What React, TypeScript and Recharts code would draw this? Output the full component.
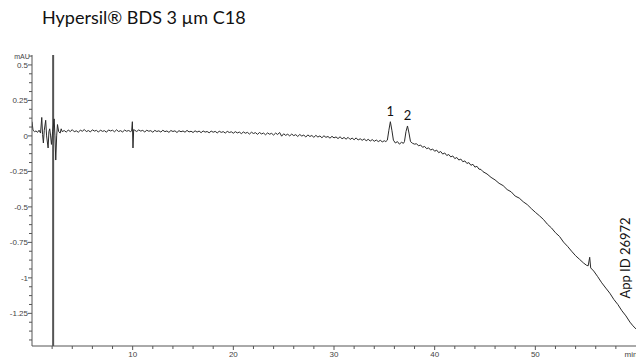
import { LineChart, Line, XAxis, YAxis, ReferenceLine, ReferenceDot } from "recharts";

// [retention time (min), absorbance (mAU)], in four stretches
const INJECTION_NOISE: [number, number][] = [
  [0, 0.1], [0.1, 0.04], [0.25, 0.03], [0.4, 0.035], [0.55, 0.025], [0.7, 0.04], [0.85, 0.02], [0.97, 0.13],
  [1.05, 0.01], [1.13, -0.05], [1.22, 0.04], [1.36, 0.11], [1.45, 0.0], [1.6, -0.085], [1.68, 0.03], [1.76, 0.05],
  [1.85, 0.0], [1.93, -0.06], [2.05, 0.03], [2.2, 0.12], [2.28, 0.0], [2.36, -0.17], [2.45, 0.0], [2.53, 0.08],
  [2.65, 0.03], [2.8, 0.02], [2.9, 0.05], [3.0, 0.03],
];

const BASELINE: [number, number][] = [
  [3.2, 0.038], [3.4, 0.027], [3.6, 0.041], [3.8, 0.031], [4.0, 0.044], [4.2, 0.029], [4.4, 0.036], [4.6, 0.026],
  [4.8, 0.04], [5.0, 0.033], [5.2, 0.045], [5.4, 0.03], [5.6, 0.038], [5.8, 0.028], [6.0, 0.043], [6.2, 0.034],
  [6.4, 0.039], [6.6, 0.027], [6.8, 0.041], [7.0, 0.032], [7.2, 0.037], [7.4, 0.026], [7.6, 0.042], [7.8, 0.035],
  [8.0, 0.04], [8.2, 0.029], [8.4, 0.043], [8.6, 0.031], [8.8, 0.037], [9.0, 0.028], [9.2, 0.041], [9.4, 0.033],
  [9.6, 0.038], [9.8, 0.03], [9.9, 0.035], [9.97, 0.1], [10.03, -0.085], [10.1, 0.045], [10.2, 0.04], [10.4, 0.031],
  [10.6, 0.042], [10.8, 0.034], [11.0, 0.039], [11.2, 0.028], [11.4, 0.04], [11.6, 0.033], [11.8, 0.037], [12.0, 0.026],
  [12.2, 0.039], [12.4, 0.031], [12.6, 0.036], [12.8, 0.027], [13.0, 0.04], [13.2, 0.03], [13.4, 0.035], [13.6, 0.025],
  [13.8, 0.038], [14.0, 0.031], [14.2, 0.036], [14.4, 0.024], [14.6, 0.037], [14.8, 0.029], [15.0, 0.035], [15.2, 0.026],
  [15.4, 0.039], [15.6, 0.028], [15.8, 0.033], [16.0, 0.024], [16.2, 0.036], [16.4, 0.027], [16.6, 0.034], [16.8, 0.023],
  [17.0, 0.035], [17.2, 0.027], [17.4, 0.031], [17.6, 0.022], [17.8, 0.034], [18.0, 0.026], [18.2, 0.032], [18.4, 0.021],
  [18.6, 0.033], [18.8, 0.025], [19.0, 0.03], [19.2, 0.02], [19.4, 0.032], [19.6, 0.024], [19.8, 0.029], [20.0, 0.019],
  [20.2, 0.03], [20.4, 0.021], [20.6, 0.027], [20.8, 0.016], [21.0, 0.028], [21.2, 0.019], [21.4, 0.025], [21.6, 0.013],
  [21.8, 0.026], [22.0, 0.017], [22.2, 0.023], [22.4, 0.011], [22.6, 0.024], [22.8, 0.014], [23.0, 0.02], [23.2, 0.008],
  [23.4, 0.021], [23.6, 0.012], [23.8, 0.018], [24.0, 0.006], [24.2, 0.02], [24.4, 0.01], [24.6, 0.024], [24.8, -0.002],
  [25.0, 0.015], [25.2, 0.004], [25.4, 0.012], [25.6, 0.0], [25.8, 0.013], [26.0, 0.002], [26.2, 0.009], [26.4, -0.004],
  [26.6, 0.01], [26.8, -0.001], [27.0, 0.006], [27.2, -0.008], [27.4, 0.007], [27.6, -0.004], [27.8, 0.003], [28.0, -0.01],
  [28.2, 0.004], [28.4, -0.008], [28.6, 0.0], [28.8, -0.013], [29.0, 0.001], [29.2, -0.01], [29.4, -0.004], [29.6, -0.016],
  [29.8, -0.003], [30.0, -0.014], [30.2, -0.007], [30.4, -0.019], [30.6, -0.006], [30.8, -0.02], [31.0, -0.011], [31.2, -0.023],
  [31.4, -0.01], [31.6, -0.025], [31.8, -0.015], [32.0, -0.027], [32.2, -0.014], [32.4, -0.029], [32.6, -0.02], [32.8, -0.031],
  [33.0, -0.021], [33.2, -0.034], [33.4, -0.024], [33.6, -0.036], [33.8, -0.026], [34.0, -0.038], [34.2, -0.029], [34.4, -0.04],
  [34.6, -0.031], [34.8, -0.042], [35.0, -0.034], [35.15, -0.04],
];

const PEAK_REGION: [number, number][] = [
  [35.3, -0.03], [35.45, 0.04], [35.6, 0.1], [35.75, 0.04], [35.9, -0.03], [36.1, -0.05], [36.3, -0.04], [36.5, -0.058],
  [36.7, -0.045], [36.9, -0.052], [37.0, -0.04], [37.15, 0.03], [37.3, 0.07], [37.45, 0.02], [37.6, -0.04], [37.8, -0.052],
  [38.0, -0.058],
];

const GRADIENT_DRIFT: [number, number][] = [
  [38.2, -0.055], [38.4, -0.07], [38.6, -0.064], [38.8, -0.08], [39.0, -0.074], [39.2, -0.09], [39.4, -0.084], [39.6, -0.1],
  [39.8, -0.092], [40.0, -0.108], [40.2, -0.1], [40.4, -0.118], [40.6, -0.11], [40.8, -0.128], [41.0, -0.12], [41.2, -0.138],
  [41.4, -0.131], [41.6, -0.148], [41.8, -0.141], [42.0, -0.16], [42.2, -0.152], [42.4, -0.17], [42.6, -0.163], [42.8, -0.182],
  [43.0, -0.176], [43.2, -0.194], [43.4, -0.188], [43.6, -0.207], [43.8, -0.2], [44.0, -0.22], [44.2, -0.214], [44.4, -0.234],
  [44.6, -0.236], [44.8, -0.252], [45.2, -0.268], [45.6, -0.292], [46.0, -0.31], [46.4, -0.334], [46.8, -0.35], [47.2, -0.378],
  [47.6, -0.394], [48.0, -0.424], [48.4, -0.438], [48.8, -0.464], [49.2, -0.484], [49.6, -0.512], [50.0, -0.538], [50.4, -0.562],
  [50.8, -0.588], [51.2, -0.622], [51.6, -0.648], [52.0, -0.682], [52.4, -0.708], [52.8, -0.748], [53.2, -0.778], [53.6, -0.812],
  [54.0, -0.844], [54.4, -0.87], [54.8, -0.896], [55.1, -0.912], [55.25, -0.915], [55.4, -0.855], [55.5, -0.93], [55.8, -0.952],
  [56.2, -0.992], [56.6, -1.035], [57.0, -1.072], [57.4, -1.108], [57.8, -1.152], [58.2, -1.188], [58.6, -1.232], [59.0, -1.268],
  [59.4, -1.312], [59.7, -1.338], [60.0, -1.36],
];

const DATA = [...INJECTION_NOISE, ...BASELINE, ...PEAK_REGION, ...GRADIENT_DRIFT].map(([t, v]) => ({ t, v }));

const PEAK_TIMES = [35.6, 37.3];
const PEAK_VALUES = [0.1, 0.07];
const PEAK_LABELS = ["1", "2"];

const X_LABELS = [10, 20, 30, 40, 50];
const Y_LABELS = [0.5, 0.25, 0, -0.25, -0.5, -0.75, -1, -1.25];
const INJECTION_TIME = 2.1;

const xTicks: number[] = [];
for (let i = 1; i < 30; i++) xTicks.push(i * 2);
const yTicks: number[] = [];
for (let i = -23; i <= 9; i++) yTicks.push(i * 0.0625);

const AXIS = "#555";
const TICK_FONT = "'Liberation Sans', Arial, sans-serif";

function XTick(props: any) {
  const { x, y, payload } = props;
  const major = X_LABELS.includes(payload.value);
  return (
    <g>
      <line x1={x} x2={x} y1={y} y2={y + (major ? 4 : 3)} stroke={AXIS} strokeWidth={1} />
      {major && (
        <text x={x} y={y + 11} textAnchor="middle" fontSize={8} fill="#444" fontFamily={TICK_FONT}>
          {payload.value}
        </text>
      )}
    </g>
  );
}

function YTick(props: any) {
  const { x, y, payload } = props;
  const label = Y_LABELS.find((v) => Math.abs(v - payload.value) < 1e-9);
  const major = label !== undefined;
  return (
    <g>
      <line x1={x - (major ? 4 : 3)} x2={x} y1={y} y2={y} stroke={AXIS} strokeWidth={1} />
      {major && (
        <text x={x - 4} y={y + 3} textAnchor="end" fontSize={8} fill="#444" fontFamily={TICK_FONT}>
          {label}
        </text>
      )}
    </g>
  );
}

export default function App() {
  return (
    <div style={{ position: "absolute", left: 0, top: 0, width: 636, height: 358, background: "#fff" }}>
      <LineChart width={636} height={358} data={DATA} margin={{ top: 55, right: 0, left: 0, bottom: 0 }}>
        <XAxis
          dataKey="t"
          type="number"
          domain={[0, 60]}
          allowDataOverflow
          ticks={xTicks}
          interval={0}
          tickSize={0}
          tickMargin={0}
          tickLine={false}
          tick={<XTick />}
          height={12}
          stroke={AXIS}
        />
        <YAxis
          type="number"
          domain={[-1.48, 0.57]}
          allowDataOverflow
          ticks={yTicks}
          interval={0}
          tickSize={0}
          tickMargin={0}
          tickLine={false}
          tick={<YTick />}
          width={32}
          stroke={AXIS}
        />
        <ReferenceLine x={INJECTION_TIME} stroke="#555" strokeWidth={2} />
        <Line
          dataKey="v"
          type="linear"
          stroke="#2a2a2a"
          strokeWidth={1}
          dot={false}
          isAnimationActive={false}
        />
        {PEAK_TIMES.map((t, i) => (
          <ReferenceDot
            key={i}
            x={t}
            y={PEAK_VALUES[i]}
            r={0}
            fill="none"
            stroke="none"
            label={{ value: PEAK_LABELS[i], position: "top", offset: 6, fontSize: 13, fill: "#111", fontFamily: "Lato, sans-serif" }}
          />
        ))}
      </LineChart>
      <svg width={636} height={358} style={{ position: "absolute", left: 0, top: 0, pointerEvents: "none" }}>
        <text x={42} y={24} fontSize={18} fill="#111" fontFamily="Lato, sans-serif">
          Hypersil® BDS 3 µm C18
        </text>
        <text x={22} y={59} textAnchor="middle" fontSize={7} fill="#444" fontFamily={TICK_FONT}>
          mAU
        </text>
        <text x={631} y={357} textAnchor="middle" fontSize={8} fill="#444" fontFamily={TICK_FONT}>
          min
        </text>
        <text
          x={0}
          y={0}
          transform="translate(630 258) rotate(-90)"
          textAnchor="middle"
          fontSize={13}
          fill="#111"
          fontFamily="Lato, sans-serif"
        >
          App ID 26972
        </text>
      </svg>
    </div>
  );
}
